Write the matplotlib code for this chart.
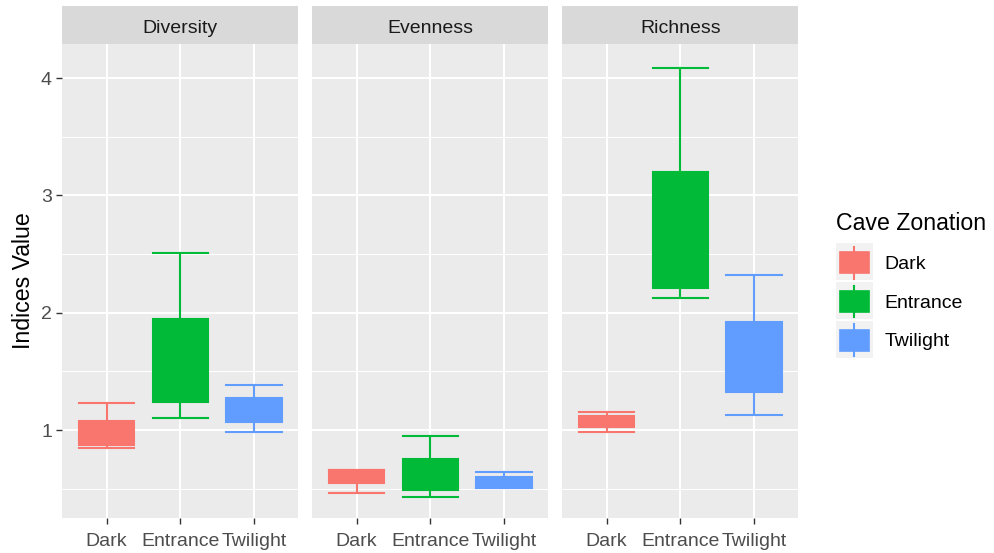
import numpy as np
import matplotlib
matplotlib.use("Agg")
import matplotlib.pyplot as plt
from matplotlib.patches import Rectangle

plt.rcParams['font.family'] = ['Liberation Sans', 'DejaVu Sans']

# data
zones = ['Dark', 'Entrance', 'Twilight']
indices = ['Diversity', 'Evenness', 'Richness']
colors = ['#F8766D', '#00BA38', '#619CFF']

diversity_lo = [0.85, 1.10, 0.985]
diversity_q1 = [0.872, 1.237, 1.068]
diversity_med = [0.95, 1.55, 1.15]
diversity_q3 = [1.079, 1.946, 1.275]
diversity_hi = [1.23, 2.509, 1.384]

evenness_lo = [0.465, 0.426, 0.506]
evenness_q1 = [0.548, 0.491, 0.508]
evenness_med = [0.60, 0.60, 0.55]
evenness_q3 = [0.656, 0.753, 0.597]
evenness_hi = [0.656, 0.946, 0.639]

richness_lo = [0.986, 2.128, 1.128]
richness_q1 = [1.026, 2.208, 1.321]
richness_med = [1.07, 2.60, 1.55]
richness_q3 = [1.119, 3.202, 1.923]
richness_hi = [1.156, 4.083, 2.324]

stats_by_index = {
    'Diversity': (diversity_lo, diversity_q1, diversity_med, diversity_q3, diversity_hi),
    'Evenness': (evenness_lo, evenness_q1, evenness_med, evenness_q3, evenness_hi),
    'Richness': (richness_lo, richness_q1, richness_med, richness_q3, richness_hi),
}

W, H = 994, 553
fig = plt.figure(figsize=(W / 100, H / 100), dpi=100)


def frac(x0, y0, x1, y1):
    return [x0 / W, 1 - y1 / H, (x1 - x0) / W, (y1 - y0) / H]


panel_x = [(62.3, 298.3), (312.3, 548.3), (562.3, 798.3)]
top, bottom, strip_top = 44, 518, 6

for i, name in enumerate(indices):
    x0, x1 = panel_x[i]
    ax = fig.add_axes(frac(x0, top, x1, bottom))
    ax.set_facecolor('#EBEBEB')
    for s in ax.spines.values():
        s.set_visible(False)

    lo, q1, med, q3, hi = stats_by_index[name]
    for j in range(3):
        st = [dict(whislo=lo[j], q1=q1[j], med=med[j], q3=q3[j], whishi=hi[j], fliers=[])]
        c = colors[j]
        ax.bxp(st, positions=[j + 1], widths=0.75, capwidths=[0.75], patch_artist=True,
               showfliers=False, manage_ticks=False,
               boxprops=dict(facecolor=c, edgecolor=c, lw=1.5),
               whiskerprops=dict(color=c, lw=1.5),
               capprops=dict(color=c, lw=1.5),
               medianprops=dict(color=c, lw=1.5))

    ax.set_xlim(0.4, 3.6)
    ax.set_ylim(0.25, 4.29)
    ax.set_yticks([1, 2, 3, 4])
    ax.set_yticks([0.5, 1.5, 2.5, 3.5], minor=True)
    ax.set_xticks([1, 2, 3])
    ax.set_xticklabels(zones)
    ax.grid(which='major', color='white', lw=1.5)
    ax.grid(which='minor', axis='y', color='white', lw=0.75)
    ax.set_axisbelow(True)
    ax.tick_params(axis='x', colors='#333333', length=4.5, width=1,
                   labelcolor='#4D4D4D', labelsize=14, pad=6)
    ax.tick_params(axis='y', which='major', colors='#333333', length=4.5, width=1,
                   labelcolor='#4D4D4D', labelsize=14, pad=3)
    ax.tick_params(axis='y', which='minor', length=0)
    if i > 0:
        ax.tick_params(axis='y', which='major', length=0, labelleft=False)
    else:
        ax.set_ylabel('Indices Value', fontsize=16.7, color='black', labelpad=4)

    sax = fig.add_axes(frac(x0, strip_top, x1, top))
    sax.set_facecolor('#D9D9D9')
    sax.set_xticks([])
    sax.set_yticks([])
    for s in sax.spines.values():
        s.set_visible(False)
    sax.text(0.5, 0.4, name, ha='center', va='center', fontsize=14,
             color='#1A1A1A', transform=sax.transAxes)

# legend drawn in pixel space
lax = fig.add_axes([0, 0, 1, 1])
lax.set_xlim(0, W)
lax.set_ylim(H, 0)
lax.axis('off')
lax.text(835.7, 223, 'Cave Zonation', fontsize=16.7, va='center', ha='left')
key_y = [243.3, 282.0, 320.7]
for j in range(3):
    ky = key_y[j]
    c = colors[j]
    lax.add_patch(Rectangle((835.7, ky), 37, 37, facecolor='#F2F2F2', edgecolor='none'))
    lax.plot([853.5, 853.5], [ky + 3.7, ky + 35.3], color=c, lw=1.5)
    lax.add_patch(Rectangle((839.5, ky + 9), 29.5, 21, facecolor=c, edgecolor=c, lw=1.2))
    lax.text(884.3, ky + 21, zones[j], fontsize=14, va='center', ha='left')

fig.savefig('out.png', dpi=100)
